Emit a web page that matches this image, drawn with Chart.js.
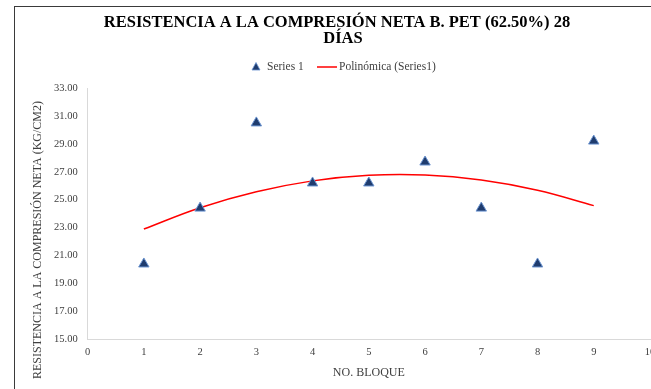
<!DOCTYPE html>
<html>
<head>
<meta charset="utf-8">
<script src="https://cdn.jsdelivr.net/npm/chart.js@4.4.0/dist/chart.umd.min.js"></script>
<style>
  html, body { margin: 0; padding: 0; background: #fff; overflow: hidden; }
  #wrap { width: 680px; height: 389px; }
</style>
</head>
<body>
<div id="wrap"><canvas id="myChart" width="680" height="389"></canvas></div>
<script>
// datos
var bloques = [1, 2, 3, 4, 5, 6, 7, 8, 9];
var resistencia = [20.4, 24.4, 30.5, 26.2, 26.2, 27.7, 24.4, 20.4, 29.2];
var tendencia = [22.9, 24.43, 25.57, 26.35, 26.75, 26.77, 26.41, 25.68, 24.58];
var titulo = ['RESISTENCIA A LA COMPRESIÓN NETA B. PET (62.50%) 28', 'DÍAS'];
var leyenda = ['Series 1', 'Polinómica (Series1)'];
var tituloX = 'NO. BLOQUE';
var tituloY = 'RESISTENCIA A LA COMPRESIÓN NETA (KG/CM2)';

var serif = "'Liberation Serif', 'Times New Roman', serif";
var gris = '#404040';
var azul = '#1f3c6e';
var borde = '#6a93d0';

var decor = {
    id: 'decor',
    beforeDraw: function(chart) {
        var c = chart.ctx;
        c.save();
        c.fillStyle = '#fff';
        c.fillRect(0, 0, chart.width, chart.height);
        c.strokeStyle = '#3a3a3a';
        c.lineWidth = 1;
        c.strokeRect(14.5, 6.5, 700, 400);
        c.restore();
    },
    afterDraw: function(chart) {
        var c = chart.ctx;
        var a = chart.chartArea;
        c.save();
        // titulo
        c.fillStyle = '#000';
        c.textAlign = 'center';
        c.textBaseline = 'middle';
        c.font = 'bold 16.5px ' + serif;
        c.fillText(titulo[0], 337, 23);
        c.fillText(titulo[1], 343, 39);
        // leyenda
        c.font = '11.5px ' + serif;
        c.textAlign = 'left';
        c.beginPath();
        c.moveTo(256, 62.5); c.lineTo(260, 70); c.lineTo(252, 70); c.closePath();
        c.fillStyle = azul; c.fill();
        c.strokeStyle = borde; c.lineWidth = 0.8; c.stroke();
        c.fillStyle = gris;
        c.fillText(leyenda[0], 267, 67);
        c.strokeStyle = '#ff0000'; c.lineWidth = 1.5;
        c.beginPath(); c.moveTo(317, 67); c.lineTo(337, 67); c.stroke();
        c.fillText(leyenda[1], 339, 67);
        // titulos de ejes
        c.font = '12px ' + serif;
        c.textAlign = 'center';
        c.fillText(tituloX, (a.left + a.right) / 2, 373);
        c.translate(38, 240);
        c.rotate(-Math.PI / 2);
        c.fillText(tituloY, 0, 0);
        c.restore();
    }
};

var ctx = document.getElementById('myChart').getContext('2d');
var myChart = new Chart(ctx, {
    type: 'scatter',
    data: {
        datasets: [{
            label: leyenda[0],
            data: bloques.map(function(x, i) { return {x: x, y: resistencia[i]}; }),
            pointStyle: 'triangle',
            pointRadius: 6,
            pointHoverRadius: 6,
            backgroundColor: azul,
            borderColor: borde,
            borderWidth: 1,
            order: 1
        }, {
            label: leyenda[1],
            data: bloques.map(function(x, i) { return {x: x, y: tendencia[i]}; }),
            showLine: true,
            pointRadius: 0,
            borderColor: '#ff0000',
            borderWidth: 1.5,
            tension: 0.4,
            fill: false,
            order: 2
        }]
    },
    options: {
        responsive: false,
        animation: false,
        layout: { padding: { top: 88, left: 44, right: 30, bottom: 23 } },
        plugins: {
            legend: { display: false },
            title: { display: false },
            tooltip: { enabled: false }
        },
        scales: {
            x: {
                type: 'linear',
                min: 0, max: 10,
                ticks: { stepSize: 1, color: gris, font: { family: serif, size: 10.5 }, padding: 7 },
                grid: { display: false, drawTicks: false },
                border: { color: '#d9d9d9' }
            },
            y: {
                min: 15, max: 33,
                ticks: {
                    stepSize: 2, color: gris, font: { family: serif, size: 10.5 }, padding: 10,
                    callback: function(v) { return v.toFixed(2); }
                },
                grid: { display: false, drawTicks: false },
                border: { color: '#d9d9d9' }
            }
        }
    },
    plugins: [decor]
});
</script>
</body>
</html>
